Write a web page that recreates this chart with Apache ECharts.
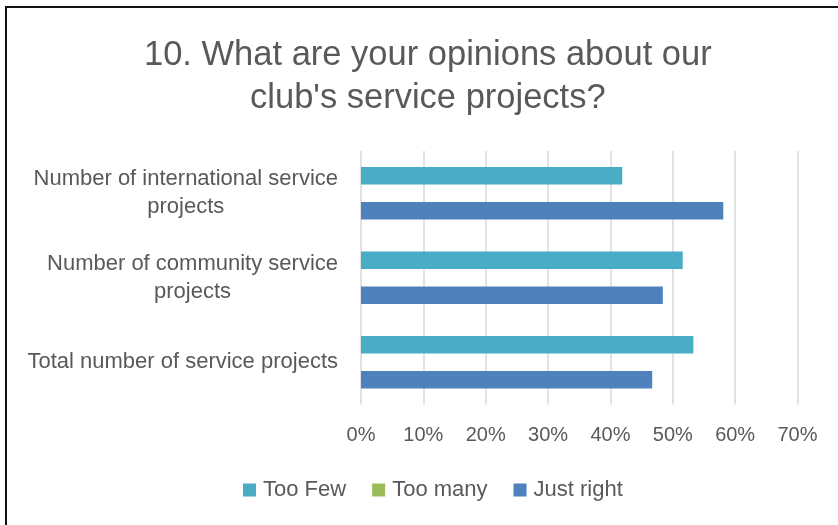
<!DOCTYPE html>
<html>
<head>
<meta charset="utf-8">
<script src="https://cdn.jsdelivr.net/npm/echarts@6/dist/echarts.min.js"></script>
<style>
  html, body { margin: 0; padding: 0; background: #ffffff; overflow: hidden; }
  #frame {
    position: absolute; left: 5px; top: 6px; width: 900px; height: 600px;
    border-left: 2px solid #111111; border-top: 2px solid #111111;
  }
  #chart { position: absolute; left: 0; top: 0; width: 838px; height: 525px; }
</style>
</head>
<body>
<div id="frame"></div>
<div id="chart"></div>
<script>
// Survey question 10: opinions about the club's service projects
const categories = [
  'Number of international service\nprojects',
  'Number of community service\nprojects',
  'Total number of service projects'
];
const seriesNames = ['Too Few', 'Too many', 'Just right'];
const tooFew = [41.9, 51.6, 53.3];
const tooMany = [0, 0, 0];
const justRight = [58.1, 48.4, 46.7];
const axisMin = 0, axisMax = 70, axisStep = 10;
const titleLines = ['10. What are your opinions about our', 'club\'s service projects?'];

const FONT = '"Liberation Sans", Arial, sans-serif';
const GREY = '#595959';
const colors = ['#4bacc6', '#9bbb59', '#4f81bd'];

const chart = echarts.init(document.getElementById('chart'), null, { renderer: 'canvas' });

const values = [tooFew, tooMany, justRight];

// each line is its own centred rich-text token
function centredLines(lines, key) {
  return lines.map(function (l) { return '{' + key + '|' + l + '}'; }).join('\n');
}

chart.setOption({
  backgroundColor: 'transparent',
  animation: false,
  title: {
    text: centredLines(titleLines, 't'),
    left: 139,
    top: 29,
    padding: 5,
    textStyle: {
      rich: {
        t: {
          align: 'center', fontFamily: FONT, fontSize: 34.5, fontWeight: 'normal',
          color: GREY, lineHeight: 43
        }
      }
    }
  },
  legend: {
    data: seriesNames,
    left: 238,
    top: 474,
    itemWidth: 13,
    itemHeight: 13,
    itemGap: 26,
    icon: 'rect',
    textStyle: { fontFamily: FONT, fontSize: 22, color: GREY, padding: [0, 0, 0, 2] }
  },
  grid: { left: 361, right: 40.5, top: 151, bottom: 120.5, containLabel: false },
  xAxis: {
    type: 'value',
    min: axisMin, max: axisMax, interval: axisStep,
    axisLine: { show: false },
    axisTick: { show: false },
    splitLine: { show: true, lineStyle: { color: '#d9d9d9', width: 1.5 } },
    axisLabel: {
      margin: 21,
      fontFamily: FONT, fontSize: 20, color: GREY,
      formatter: '{value}%'
    }
  },
  yAxis: {
    type: 'category',
    data: categories,
    inverse: true,
    axisLine: { show: false },
    axisTick: { show: false },
    splitLine: { show: false },
    axisLabel: {
      margin: 23,
      align: 'right',
      formatter: function (v) { return centredLines(v.split('\n'), 'c'); },
      rich: {
        c: { align: 'center', fontFamily: FONT, fontSize: 22, color: GREY, lineHeight: 28 }
      }
    }
  },
  series: seriesNames.map(function (name, i) {
    return {
      name: name,
      type: 'bar',
      data: values[i],
      barGap: '0%',
      barCategoryGap: '38%',
      itemStyle: { color: colors[i] }
    };
  })
});
</script>
</body>
</html>
